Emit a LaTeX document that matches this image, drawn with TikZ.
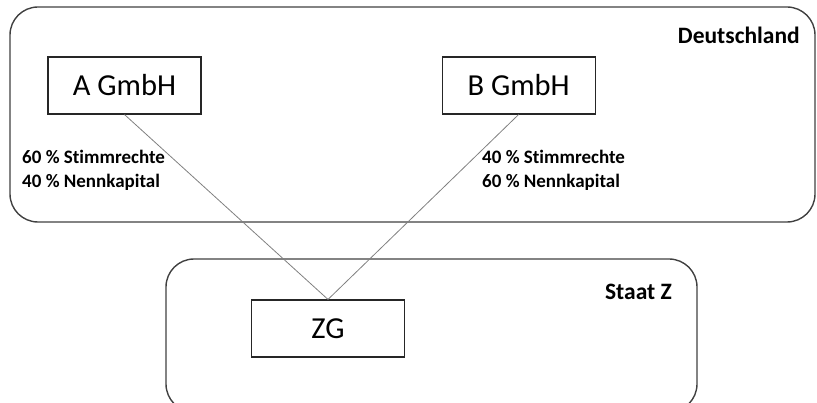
\documentclass[tikz,border=0pt]{standalone}
\usepackage{fontspec}
\setmainfont{Carlito}[Ligatures=NoCommon]
\usetikzlibrary{positioning}

\begin{document}
\begin{tikzpicture}[x=1pt,y=-1pt,
	firm/.style={draw=black!85,line width=1.1pt,minimum width=153pt,minimum height=57pt,inner sep=0pt,font=\fontsize{30.5}{33}\selectfont},
	region/.style={draw=black!75,line width=1.4pt,rounded corners=28pt,inner sep=0pt},
	share/.style={align=left,anchor=west,inner sep=0pt,font=\bfseries\fontsize{19}{24}\selectfont},
	country/.style={anchor=east,inner sep=0pt,font=\bfseries\fontsize{23.5}{26}\selectfont},
	stake/.style={draw=black!50,line width=0.8pt},
	]
	\useasboundingbox (0,0) rectangle (817,403);
	%regions
	\node[region,minimum width=805pt,minimum height=215pt] at (412.5,114.5) (DE) {};
	\node[region,minimum width=531pt,minimum height=153pt] at (431.5,335.5) (Z) {};
	\node[country] at (800,35) (DEname) {Deutschland};
	\node[country] at (672,292) (Zname) {Staat Z};
	
	%companies
	\node[firm] at (124.5,85.5) (agmbh) {A GmbH};
	\node[firm,right=240pt of agmbh] (bgmbh) {B GmbH};
	\node[firm] at (328,328.5) (zg) {ZG};
	
	\node[share] at (22,170) (ashare) {60 \% Stimmrechte\\40 \% Nennkapital};
	\node[share] at (482,170) (bshare) {40 \% Stimmrechte\\60 \% Nennkapital};
	
	\path[stake] (agmbh.south) edge (zg.north);
	\path[stake] (bgmbh.south) edge (zg.north);
\end{tikzpicture}
\end{document}
